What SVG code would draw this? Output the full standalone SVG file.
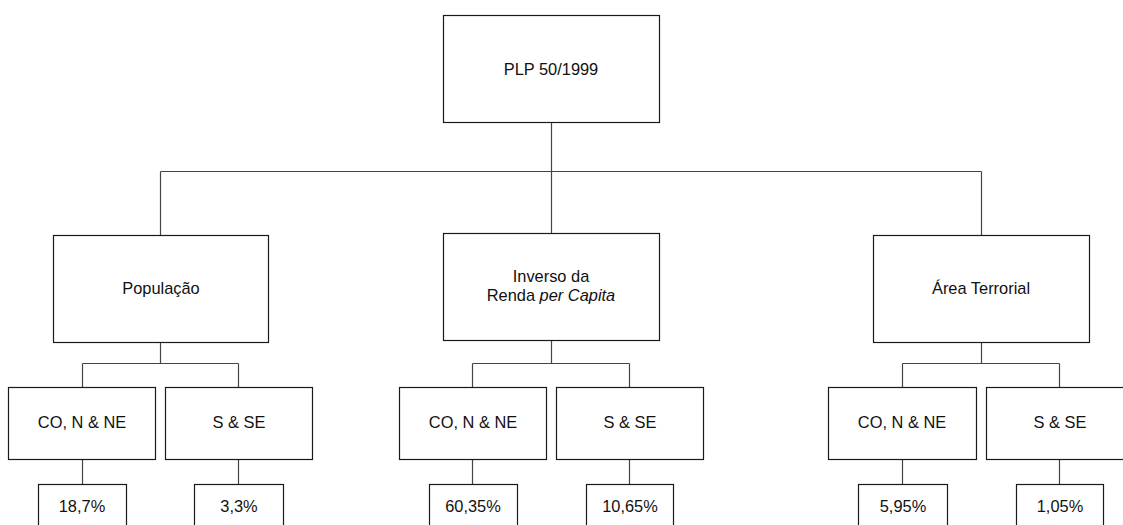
<svg xmlns="http://www.w3.org/2000/svg" width="1123" height="525" viewBox="0 0 1123 525">
<style>
.box{fill:#fff;stroke:#1a1a1a;stroke-width:1.2}
.lbl{font-family:"Liberation Sans",Arial,sans-serif;font-size:16.4px;fill:#111;text-anchor:middle}
.con{fill:none;stroke:#444;stroke-width:1.2}
</style>
<rect width="1123" height="525" fill="#fff"/>
<g id="connectors">
<path class="con" d="M551.5 122V171.5M160.5 171.5H981.5M160.5 171.5V235M551.5 171.5V233M981.5 171.5V235"/>
<path class="con" d="M160.5 342V363.5M82.5 363.5H238.5M82.5 363.5V387M238.5 363.5V387M82.5 459V484M238.5 459V484"/>
<path class="con" d="M551.5 340V363.5M472.5 363.5H629.5M472.5 363.5V387M629.5 363.5V387M472.5 459V484M629.5 459V484"/>
<path class="con" d="M981.5 342V363.5M902.5 363.5H1059.5M902.5 363.5V387M1059.5 363.5V387M902.5 459V484M1059.5 459V484"/>
</g>
<g id="root"><rect class="box" x="443.5" y="15.5" width="216" height="107"/><text class="lbl" x="551" y="75">PLP 50/1999</text></g>
<g id="populacao"><rect class="box" x="53.5" y="235.5" width="215" height="107"/><text class="lbl" x="161" y="294">População</text></g>
<g id="renda"><rect class="box" x="443.5" y="233.5" width="216" height="107"/><text class="lbl" x="551" y="282">Inverso da</text><text class="lbl" x="551" y="301">Renda <tspan font-style="italic">per Capita</tspan></text></g>
<g id="area"><rect class="box" x="873.5" y="235.5" width="216" height="107"/><text class="lbl" x="981" y="294">Área Terrorial</text></g>
<g id="pop-co"><rect class="box" x="8.5" y="387.5" width="147" height="72"/><text class="lbl" x="82" y="428">CO, N &amp; NE</text></g>
<g id="pop-s"><rect class="box" x="165.5" y="387.5" width="147" height="72"/><text class="lbl" x="239" y="428">S &amp; SE</text></g>
<g id="renda-co"><rect class="box" x="399.5" y="387.5" width="147" height="72"/><text class="lbl" x="473" y="428">CO, N &amp; NE</text></g>
<g id="renda-s"><rect class="box" x="556.5" y="387.5" width="147" height="72"/><text class="lbl" x="630" y="428">S &amp; SE</text></g>
<g id="area-co"><rect class="box" x="828.5" y="387.5" width="148" height="72"/><text class="lbl" x="902" y="428">CO, N &amp; NE</text></g>
<g id="area-s"><rect class="box" x="986.5" y="387.5" width="147" height="72"/><text class="lbl" x="1060" y="428">S &amp; SE</text></g>
<g id="p1"><rect class="box" x="38.5" y="484.5" width="88" height="50"/><text class="lbl" x="82" y="512">18,7%</text></g>
<g id="p2"><rect class="box" x="194.5" y="484.5" width="89" height="50"/><text class="lbl" x="239" y="512">3,3%</text></g>
<g id="p3"><rect class="box" x="429.5" y="484.5" width="88" height="50"/><text class="lbl" x="473" y="512">60,35%</text></g>
<g id="p4"><rect class="box" x="586.5" y="484.5" width="87" height="50"/><text class="lbl" x="630" y="512">10,65%</text></g>
<g id="p5"><rect class="box" x="858.5" y="484.5" width="89" height="50"/><text class="lbl" x="903" y="512">5,95%</text></g>
<g id="p6"><rect class="box" x="1016.5" y="484.5" width="87" height="50"/><text class="lbl" x="1060" y="512">1,05%</text></g>
</svg>
